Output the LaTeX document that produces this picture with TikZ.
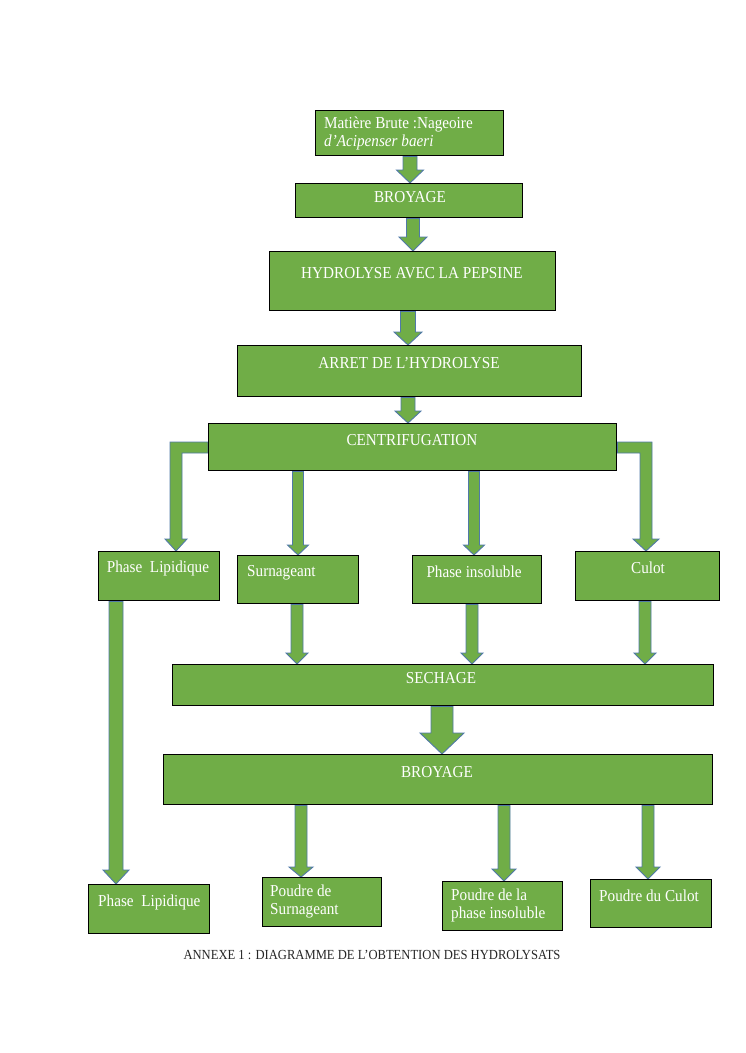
\documentclass[tikz,border=0pt]{standalone}
\usepackage{fontspec}
\setmainfont{Liberation Serif}
\usetikzlibrary{calc,backgrounds}
\definecolor{boxgreen}{HTML}{70AD47}
\definecolor{arrline}{HTML}{5079A8}
\newcommand\vst[1]{\scalebox{1}[1.1]{#1}}
\tikzset{
  box/.style={draw=black, line width=1.4pt, fill=boxgreen, rectangle, inner sep=0pt, anchor=north west},
  lbl/.style={text=white, font=\fontsize{15.2}{18}\selectfont, inner sep=0pt},
  arr/.style={draw=arrline, line width=0.9pt, fill=boxgreen, line join=miter},
  captxt/.style={text=black!85, font=\fontsize{12.6}{14}\selectfont, inner sep=0pt}
}
% vertical block arrow: x, from node, to node, half shaft, half head, head length
\newcommand\varr[6]{%
  \draw[arr] let \p1=(#2.south), \p2=(#3.north) in
    (#1pt-#4pt,\y1) -- (#1pt-#4pt,\y2+#6pt) -- (#1pt-#5pt,\y2+#6pt) -- (#1pt,\y2)
    -- (#1pt+#5pt,\y2+#6pt) -- (#1pt+#4pt,\y2+#6pt) -- (#1pt+#4pt,\y1) -- cycle;}
\begin{document}
\begin{tikzpicture}[x=1pt,y=-1pt]
\useasboundingbox (0,0) rectangle (745,1053);
% boxes
\node[box, minimum width=188pt, minimum height=45pt] (b1) at (315,110) {};
\node[box, minimum width=227pt, minimum height=34pt] (b2) at (295,183) {};
\node[box, minimum width=286pt, minimum height=59pt] (b3) at (269,251) {};
\node[box, minimum width=344pt, minimum height=51pt] (b4) at (237,345) {};
\node[box, minimum width=408pt, minimum height=47pt] (b5) at (208,423) {};
\node[box, minimum width=121pt, minimum height=49pt] (b6) at (98,551) {};
\node[box, minimum width=121pt, minimum height=48pt] (b7) at (237,555) {};
\node[box, minimum width=129pt, minimum height=48pt] (b8) at (412,555) {};
\node[box, minimum width=144pt, minimum height=49pt] (b9) at (575,551) {};
\node[box, minimum width=541pt, minimum height=41pt] (b10) at (172,664) {};
\node[box, minimum width=549pt, minimum height=50pt] (b11) at (163,754) {};
\node[box, minimum width=121pt, minimum height=49pt] (b12) at (88,884) {};
\node[box, minimum width=119pt, minimum height=49pt] (b13) at (262,877) {};
\node[box, minimum width=120pt, minimum height=49pt] (b14) at (442,881) {};
\node[box, minimum width=121pt, minimum height=48pt] (b15) at (590,879) {};
% labels
\node[lbl, anchor=west] (t1a) at (324,124) {\vst{Matière Brute :Nageoire}};
\node[lbl, anchor=west] (t1b) at (324,142) {\vst{\textit{d'Acipenser baeri}}};
\node[lbl] (t2) at (410,197) {\vst{BROYAGE}};
\node[lbl] (t3) at (412,273) {\vst{HYDROLYSE AVEC LA PEPSINE}};
\node[lbl] (t4) at (409,363) {\vst{ARRET DE L'HYDROLYSE}};
\node[lbl] (t5) at (412,440) {\vst{CENTRIFUGATION}};
\node[lbl] (t6) at (158,568) {\vst{Phase\ \ Lipidique}};
\node[lbl, anchor=west] (t7) at (247,573) {\vst{Surnageant}};
\node[lbl] (t8) at (474,572) {\vst{Phase insoluble}};
\node[lbl] (t9) at (648,568) {\vst{Culot}};
\node[lbl] (t10) at (441,678) {\vst{SECHAGE}};
\node[lbl] (t11) at (437,772) {\vst{BROYAGE}};
\node[lbl, anchor=west] (t12) at (98,902) {\vst{Phase\ \ Lipidique}};
\node[lbl, anchor=west] (t13a) at (270,891) {\vst{Poudre de}};
\node[lbl, anchor=west] (t13b) at (270,911) {\vst{Surnageant}};
\node[lbl, anchor=west] (t14a) at (451,895) {\vst{Poudre de la}};
\node[lbl, anchor=west] (t14b) at (451,914) {\vst{phase insoluble}};
\node[lbl, anchor=west] (t15) at (599,896) {\vst{Poudre du Culot}};
\node[captxt] (capt) at (372,955) {\vst{ANNEXE 1 : DIAGRAMME DE L'OBTENTION DES HYDROLYSATS}};
% arrows
\begin{pgfonlayer}{background}
\varr{410}{b1}{b2}{7}{13.5}{13}
\varr{413}{b2}{b3}{6.5}{14}{14}
\varr{408}{b3}{b4}{7.5}{14}{13}
\varr{408}{b4}{b5}{7}{13}{12}
\varr{298}{b5}{b7}{5.5}{10.5}{10}
\varr{474}{b5}{b8}{5.5}{10.5}{10}
\varr{297}{b7}{b10}{6}{11}{11}
\varr{472}{b8}{b10}{6}{11}{11}
\varr{645}{b9}{b10}{6}{11}{11}
\varr{116}{b6}{b12}{7}{13}{14}
\varr{442}{b10}{b11}{11}{22}{21}
\varr{301}{b11}{b13}{6}{12}{10}
\varr{504}{b11}{b14}{6}{12}{12}
\varr{648}{b11}{b15}{6}{12}{12}
% elbow arrows from centrifugation
\draw[arr] let \p1=(b5.west), \p2=(b6.north), \p3=(b5.north) in
  (\x1,\y3-19pt) -- (170pt,\y3-19pt) -- (170pt,\y2+12pt) -- (165pt,\y2+12pt) -- (176pt,\y2)
  -- (187pt,\y2+12pt) -- (182pt,\y2+12pt) -- (182pt,\y3-30pt) -- (\x1,\y3-30pt) -- cycle;
\draw[arr] let \p1=(b5.east), \p2=(b9.north), \p3=(b5.north) in
  (\x1,\y3-19pt) -- (652pt,\y3-19pt) -- (652pt,\y2+12pt) -- (659pt,\y2+12pt) -- (646pt,\y2)
  -- (633pt,\y2+12pt) -- (640pt,\y2+12pt) -- (640pt,\y3-30pt) -- (\x1,\y3-30pt) -- cycle;
\end{pgfonlayer}
\end{tikzpicture}
\end{document}
